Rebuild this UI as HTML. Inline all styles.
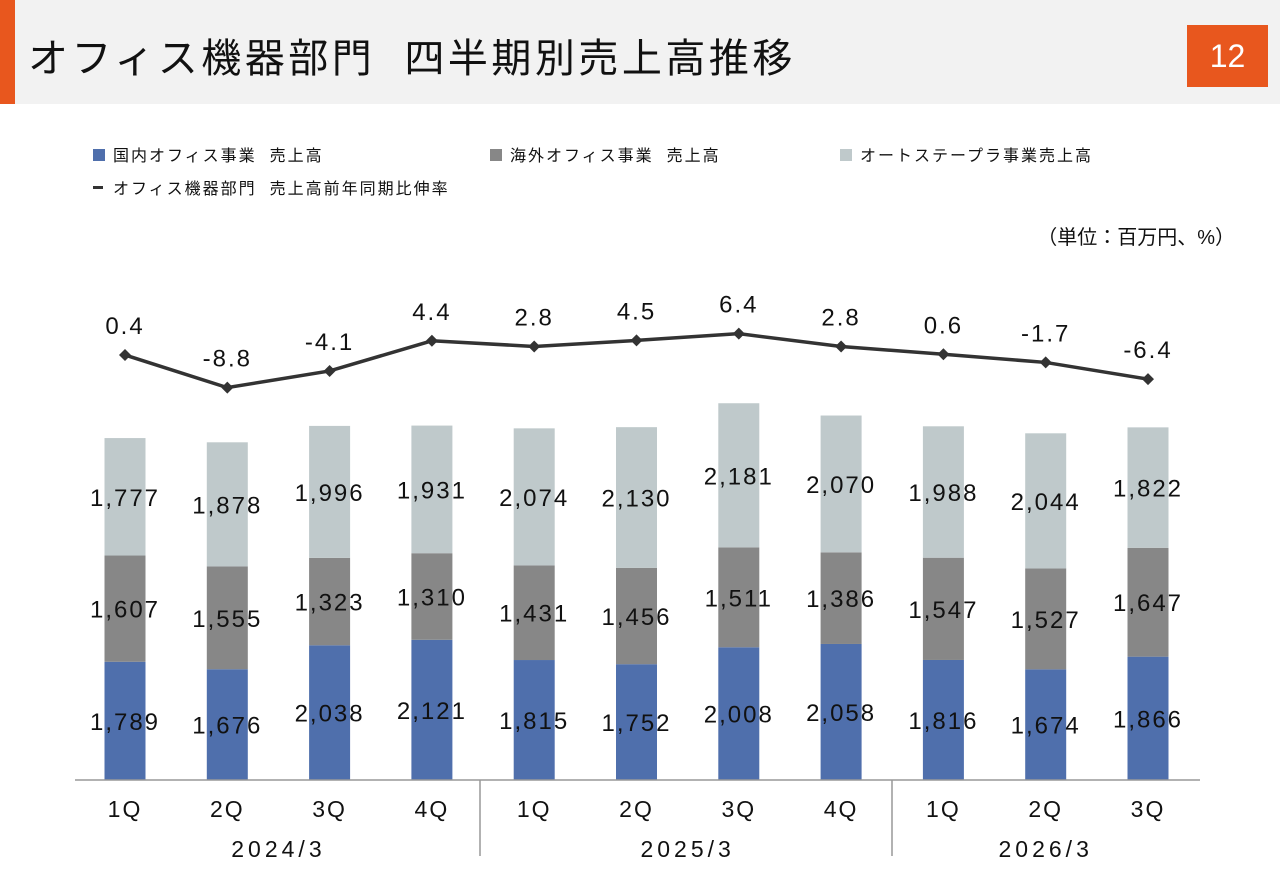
<!DOCTYPE html>
<html><head><meta charset="utf-8"><style>
body{margin:0;width:1280px;height:886px;background:#fff;overflow:hidden;font-family:"Liberation Sans","Noto Sans CJK JP",sans-serif;position:relative}
.abs{position:absolute}
</style></head><body>
<div class="abs" style="left:0;top:0;width:1280px;height:104px;background:#f2f2f2"></div>
<div class="abs" style="left:0;top:0;width:15px;height:104px;background:#e8571e"></div>
<div class="abs" style="left:28px;top:26px;font-size:40px;letter-spacing:3.5px;color:#111;white-space:nowrap">オフィス機器部門&nbsp;&nbsp;四半期別売上高推移</div>
<div class="abs" style="left:1187px;top:25px;width:81px;height:62px;background:#e8571e;color:#fff;font-size:32px;line-height:62px;text-align:center">12</div>
<svg class="abs" style="left:0;top:0" width="1280" height="886" font-family="Liberation Sans, Noto Sans CJK JP, sans-serif">
<g id="legend" font-size="16" fill="#111" letter-spacing="2">
<rect x="93" y="149" width="12" height="12" fill="#4f6fac"/><text x="113" y="161">国内オフィス事業&nbsp;&nbsp;売上高</text>
<rect x="490" y="149" width="12" height="12" fill="#878787"/><text x="510" y="161">海外オフィス事業&nbsp;&nbsp;売上高</text>
<rect x="840" y="149" width="12" height="12" fill="#bfc9cb"/><text x="860" y="161">オートステープラ事業売上高</text>
<rect x="93" y="186" width="10" height="3" fill="#333"/><text x="113" y="194">オフィス機器部門&nbsp;&nbsp;売上高前年同期比伸率</text>
</g>
<text x="1235" y="244" text-anchor="end" font-size="20" fill="#111">（単位：百万円、%）</text>
<g id="plot"></g>
</svg>
<script>
const quarters=["1Q","2Q","3Q","4Q","1Q","2Q","3Q","4Q","1Q","2Q","3Q"];
const years=["2024/3","2025/3","2026/3"];
const domestic=[1789,1676,2038,2121,1815,1752,2008,2058,1816,1674,1866];
const overseas=[1607,1555,1323,1310,1431,1456,1511,1386,1547,1527,1647];
const stapler=[1777,1878,1996,1931,2074,2130,2181,2070,1988,2044,1822];
const growth=[0.4,-8.8,-4.1,4.4,2.8,4.5,6.4,2.8,0.6,-1.7,-6.4];
const NS="http://www.w3.org/2000/svg";
const g=document.getElementById('plot');
const base=780, k=0.0661;
const xC=i=>125+i*102.3;
const yB=v=>base-v*k;
const yL=p=>356.4-p*3.55;
function mk(t,a,p){const e=document.createElementNS(NS,t);for(const n in a)e.setAttribute(n,a[n]);(p||g).appendChild(e);return e;}
const series=[[domestic,"#4f6fac","domestic"],[overseas,"#878787","overseas"],[stapler,"#bfc9cb","stapler"]];
quarters.forEach((q,i)=>{
  let acc=0;
  series.forEach(([arr,col,nm])=>{
    const v=arr[i];const y0=yB(acc),y1=yB(acc+v);
    const r=mk('rect',{x:xC(i)-20.5,y:y1,width:41,height:y0-y1,fill:col});
    
    
    const t=mk('text',{x:xC(i),y:(y0+y1)/2+9,'text-anchor':'middle','font-size':24,'letter-spacing':2,fill:'#111'});
    t.textContent=v.toLocaleString('en-US');
    
    
    acc+=v;
  });
  const ql=mk('text',{x:xC(i),y:817,'text-anchor':'middle','font-size':23,'letter-spacing':2,fill:'#111'});
  ql.textContent=q;
  
  
});
const ax=mk('line',{x1:75,x2:1200,y1:base,y2:base,stroke:'#999','stroke-width':1.5});


[480,892].forEach(x=>{const s=mk('line',{x1:x,x2:x,y1:base,y2:856,stroke:'#999','stroke-width':1.5});

});
const yc=[(xC(0)+xC(3))/2,(xC(4)+xC(7))/2,(xC(8)+xC(10))/2];
years.forEach((y,j)=>{const t=mk('text',{x:yc[j],y:857,'text-anchor':'middle','font-size':23,'letter-spacing':4,fill:'#111'});t.textContent=y;

});
const pl=mk('polyline',{points:growth.map((p,i)=>xC(i)+','+yL(p)).join(' '),fill:'none',stroke:'#333','stroke-width':3.5});


growth.forEach((p,i)=>{
  const x=xC(i),y=yL(p);
  const d=mk('polygon',{points:`${x},${y-6} ${x+6},${y} ${x},${y+6} ${x-6},${y}`,fill:'#333'});
  
  
  const t=mk('text',{x:x,y:y-21,'text-anchor':'middle','font-size':24,'letter-spacing':2,fill:'#111'});
  t.textContent=p.toFixed(1);
  
  
});
</script>
</body></html>
